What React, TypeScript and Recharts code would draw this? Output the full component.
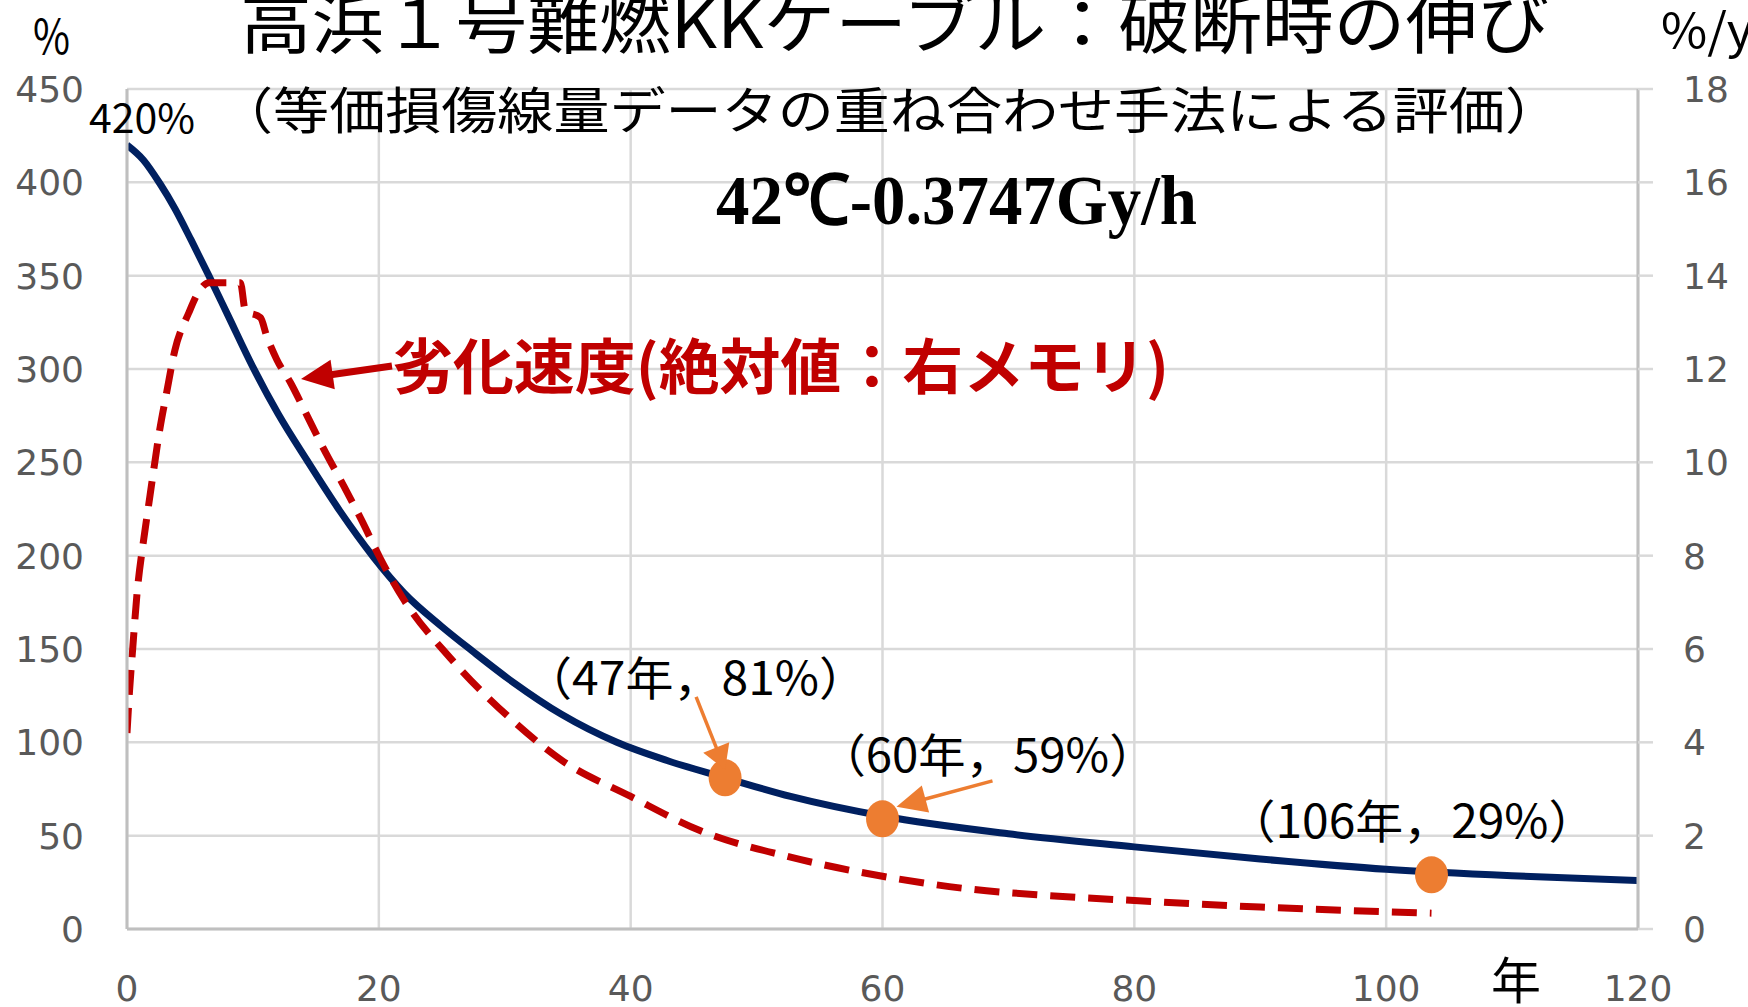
import React from 'react';
import { ComposedChart, Line, Scatter, XAxis, YAxis, CartesianGrid } from 'recharts';

// ---- axes ----
const xTicks = [0, 20, 40, 60, 80, 100, 120];
const leftTicks = [0, 50, 100, 150, 200, 250, 300, 350, 400, 450];
const rightTicks = [0, 2, 4, 6, 8, 10, 12, 14, 16, 18];

// ---- elongation at break (%), left axis ----
const elongYears = [0, 1.3, 2.6, 3.8, 5.1, 6.5, 8, 10, 12, 14.3, 16.9, 19.6, 22, 25, 27.5, 30.7, 34.5, 38.9, 43, 47.5, 52.7, 60, 70, 80, 90, 100, 110, 120];
const elongValues = [420, 412, 399.5, 386, 369, 350, 329, 301, 276, 251, 224, 199, 180, 162, 148.5, 132, 115, 100, 90, 81, 71, 60.5, 51, 44, 37.5, 32, 28.5, 26];

// ---- degradation rate (%/y), right axis ----
const rateYears = [0, 0.2, 0.45, 0.8, 1.3, 1.7, 2.1, 2.6, 3.15, 3.8, 4.9, 5.8, 6.5, 9.0, 9.4, 10.6, 11.1, 11.9, 13.0, 14.3, 15.6, 17.2, 18.65, 20.1, 22, 25.7, 30.7, 34.5, 40, 45.5, 52.7, 60, 66.8, 73, 80, 90, 100, 103.6];
const rateValues = [4.2, 5.1, 6.0, 7.2, 8.3, 9.05, 9.8, 10.7, 11.5, 12.4, 13.2, 13.7, 13.85, 13.85, 13.25, 13.1, 12.7, 12.2, 11.7, 11.0, 10.3, 9.5, 8.75, 7.95, 7.05, 5.8, 4.45, 3.62, 2.84, 2.11, 1.54, 1.13, 0.86, 0.72, 0.61, 0.47, 0.37, 0.34];

// ---- highlighted points ----
const markYears = [47.5, 60, 103.6];
const markValues = [81, 59, 29];
const markLabels = ['（47年，81%）', '（60年，59%）', '（106年，29%）'];

const elongData = elongYears.map((x, i) => ({ x, e: elongValues[i] }));
const rateData = rateYears.map((x, i) => ({ x, r: rateValues[i] }));
const markData = markYears.map((x, i) => ({ x, e: markValues[i] }));

// label / arrow layout relative to each highlighted point
const noteLayout = [
  { dx: -201, dy: -83, w: 343, arrow: [-29, -81, 0, -8] as number[] | null, head: [24, 28] },
  { dx: -64, dy: -47, w: 338, arrow: [110, -38, 14, -12] as number[] | null, head: [30, 28] },
  { dx: -204, dy: -37, w: 369, arrow: null as number[] | null, head: [0, 0] },
];

const JP = '"Noto Sans CJK JP", "Noto Sans", sans-serif';
const TICK_FONT = '"DejaVu Sans", sans-serif';

function Arrow({ x1, y1, x2, y2, color, width, headLen, headW }: any) {
  const dx = x2 - x1;
  const dy = y2 - y1;
  const L = Math.hypot(dx, dy) || 1;
  const ux = dx / L;
  const uy = dy / L;
  const bx = x2 - ux * headLen;
  const by = y2 - uy * headLen;
  const px = -uy;
  const py = ux;
  return (
    <g>
      <line x1={x1} y1={y1} x2={bx + ux * 2} y2={by + uy * 2} stroke={color} strokeWidth={width} />
      <polygon
        points={`${x2},${y2} ${bx + (px * headW) / 2},${by + (py * headW) / 2} ${bx - (px * headW) / 2},${by - (py * headW) / 2}`}
        fill={color}
      />
    </g>
  );
}

const MarkShape = (props: any) => {
  const { cx, cy, payload } = props;
  let idx = markYears.indexOf(payload?.x);
  if (idx < 0) idx = 0;
  const lay = noteLayout[idx];
  return (
    <g>
      <ellipse cx={cx} cy={cy} rx={16.5} ry={18.5} fill="#ED7D31" />
      {lay.arrow && (
        <Arrow
          x1={cx + lay.arrow[0]}
          y1={cy + lay.arrow[1]}
          x2={cx + lay.arrow[2]}
          y2={cy + lay.arrow[3]}
          color="#ED7D31"
          width={3.5}
          headLen={lay.head[0]}
          headW={lay.head[1]}
        />
      )}
      <text
        x={cx + lay.dx}
        y={cy + lay.dy}
        fontFamily={JP}
        fontSize={46}
        fill="#000"
        textLength={lay.w}
        lengthAdjust="spacingAndGlyphs"
      >
        {markLabels[idx]}
      </text>
    </g>
  );
};

const LeftTick = ({ x, y, payload }: any) => (
  <text x={x - 43} y={y + 13} textAnchor="end" fill="#595959" fontSize={36} fontFamily={TICK_FONT}>
    {payload.value}
  </text>
);

const RightTick = ({ x, y, payload }: any) => (
  <text x={x + 30} y={y + 13} textAnchor="start" fill="#595959" fontSize={36} fontFamily={TICK_FONT}>
    {payload.value}
  </text>
);

const BottomTick = ({ x, y, payload }: any) => (
  <text x={x} y={y + 72} textAnchor="middle" fill="#595959" fontSize={36} fontFamily={TICK_FONT}>
    {payload.value}
  </text>
);

export default function App() {
  return (
    <div style={{ position: 'absolute', left: 0, top: 0, width: 1748, height: 1007, background: '#fff', overflow: 'hidden' }}>
      <ComposedChart width={1748} height={1007} margin={{ top: 89, right: 0, bottom: 0, left: 0 }}>
        <CartesianGrid yAxisId="left" stroke="#d9d9d9" strokeWidth={2.5} />
        <XAxis
          dataKey="x"
          type="number"
          domain={[0, 120]}
          ticks={xTicks}
          height={78}
          axisLine={{ stroke: '#bfbfbf', strokeWidth: 3 }}
          tickLine={false}
          tickSize={0}
          tickMargin={0}
          tick={<BottomTick />}
          allowDataOverflow
        />
        <YAxis
          yAxisId="left"
          type="number"
          domain={[0, 450]}
          ticks={leftTicks}
          width={127}
          axisLine={{ stroke: '#bfbfbf', strokeWidth: 3 }}
          tickLine={false}
          tickSize={0}
          tickMargin={0}
          tick={<LeftTick />}
          allowDataOverflow
        />
        <YAxis
          yAxisId="right"
          orientation="right"
          type="number"
          domain={[0, 18]}
          ticks={rightTicks}
          width={110}
          axisLine={{ stroke: '#bfbfbf', strokeWidth: 3 }}
          tickLine={{ stroke: '#d9d9d9', strokeWidth: 2.5 }}
          tickSize={15}
          tickMargin={0}
          tick={<RightTick />}
          allowDataOverflow
        />
        <Line
          data={elongData}
          dataKey="e"
          yAxisId="left"
          type="monotone"
          stroke="#002060"
          strokeWidth={7}
          dot={false}
          activeDot={false}
          isAnimationActive={false}
        />
        <Line
          data={rateData}
          dataKey="r"
          yAxisId="right"
          type="monotone"
          stroke="#C00000"
          strokeWidth={7}
          strokeDasharray="25 13"
          dot={false}
          activeDot={false}
          isAnimationActive={false}
        />
        <Scatter data={markData} dataKey="e" yAxisId="left" fill="#ED7D31" shape={<MarkShape />} isAnimationActive={false} />
      </ComposedChart>
      <svg width={1748} height={1007} style={{ position: 'absolute', left: 0, top: 0, pointerEvents: 'none' }}>
        <text x={240} y={48} fontFamily={JP} fontSize={66} fill="#000" textLength={1309} lengthAdjust="spacingAndGlyphs">
          高浜１号難燃KKケーブル：破断時の伸び
        </text>
        <text x={217} y={129} fontFamily={JP} fontSize={50} fill="#000" textLength={1344} lengthAdjust="spacingAndGlyphs">
          （等価損傷線量データの重ね合わせ手法による評価）
        </text>
        <text x={716} y={224} fontFamily='"Liberation Serif", serif' fontWeight="bold" fontSize={70} fill="#000" textLength={481} lengthAdjust="spacingAndGlyphs">
          42℃-0.3747Gy/h
        </text>
        <text x={33} y={54} fontFamily={JP} fontSize={48} fill="#000" textLength={37} lengthAdjust="spacingAndGlyphs">
          %
        </text>
        <text x={1661} y={48} fontFamily={JP} fontSize={48} fill="#000" textLength={92} lengthAdjust="spacingAndGlyphs">
          %/y
        </text>
        <text x={89} y={133} fontFamily={JP} fontSize={40} fill="#000" textLength={106} lengthAdjust="spacingAndGlyphs">
          420%
        </text>
        <text x={1516} y={999} textAnchor="middle" fontFamily={JP} fontSize={50} fill="#000">
          年
        </text>
        <Arrow x1={392} y1={366} x2={301} y2={379} color="#C00000" width={7} headLen={32} headW={30} />
        <text x={392} y={389} fontFamily={JP} fontWeight="bold" fontSize={60} fill="#C00000" textLength={777} lengthAdjust="spacingAndGlyphs">
          劣化速度(絶対値：右メモリ)
        </text>
      </svg>
    </div>
  );
}
